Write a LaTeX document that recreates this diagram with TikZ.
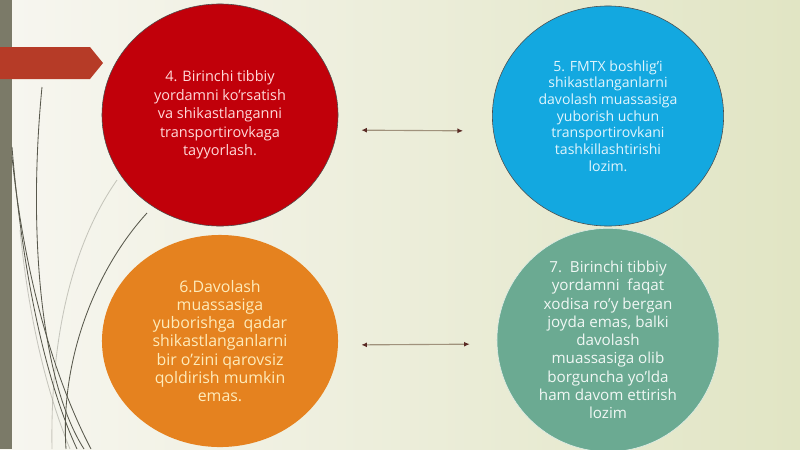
\documentclass[tikz,border=0pt]{standalone}
\usepackage{fontspec}
\setmainfont{Open Sans}
\usetikzlibrary{shapes.geometric,arrows.meta}
\definecolor{bgleft}{HTML}{F7F6F0}
\definecolor{bgright}{HTML}{E1E5C4}
\definecolor{barc}{HTML}{7B7A68}
\definecolor{flagc}{HTML}{B63B27}
\definecolor{curvec}{HTML}{58584C}
\definecolor{redc}{HTML}{C1000A}
\definecolor{bluec}{HTML}{13A8E0}
\definecolor{orangec}{HTML}{E5821F}
\definecolor{tealc}{HTML}{6BAA92}
\definecolor{linkc}{HTML}{A0927C}
\definecolor{tipc}{HTML}{5A2A24}
\begin{document}
\begin{tikzpicture}[x=0.025cm,y=-0.025cm,
    blob/.style={ellipse,inner sep=0pt,align=center},
    curve/.style={draw=curvec,line width=0.6pt},
    link/.style={{Latex[length=4pt,width=3.5pt,color=tipc]}-{Latex[length=4pt,width=3.5pt,color=tipc]},draw=linkc,line width=0.8pt}]
    \useasboundingbox (0,0) rectangle (800,449);
    \shade[left color=bgleft,right color=bgright] (0,0) rectangle (800,449);
    % left decoration
    \fill[barc] (0,0) rectangle (12,449);
    \draw[curve] (42,87) .. controls (28,230) and (40,380) .. (84,449);
    \draw[curve] (12,157) .. controls (25,280) and (55,380) .. (91,449);
    \draw[curve] (12,147) .. controls (22,270) and (45,380) .. (77,449);
    \draw[curve] (147,213) .. controls (95,270) and (60,360) .. (66,449);
    \draw[curve,opacity=.3] (117,180) .. controls (75,240) and (50,330) .. (52,449);
    \draw[curve,opacity=.3] (20,230) .. controls (30,330) and (50,400) .. (70,449);
    \fill[flagc] (0,47) -- (90,47) -- (103,63) -- (90,79) -- (0,79) -- cycle;
    % circles
    \node[blob,fill=redc,draw=black!70,thin,minimum width=5.9cm,minimum height=5.55cm,text=red!15!white,
        font=\fontsize{10.3}{13.2}\selectfont] (red) at (220,115)
        {4. Birinchi tibbiy\\yordamni ko’rsatish\\va shikastlanganni\\transportirovkaga\\tayyorlash.};
    \node[blob,fill=bluec,draw=black!70,thin,minimum width=5.78cm,minimum height=5.5cm,text=cyan!12!white,
        font=\fontsize{10}{11.9}\selectfont] (blue) at (608,116)
        {5. FMTX boshlig'i\\shikastlanganlarni\\davolash muassasiga\\yuborish uchun\\transportirovkani\\tashkillashtirishi\\lozim.};
    \node[blob,fill=orangec,minimum width=5.9cm,minimum height=5.3cm,text=yellow!45!orange!25!white,
        font=\fontsize{11.3}{13}\selectfont] (orange) at (220,341)
        {6.Davolash\\muassasiga\\yuborishga\ \ qadar\\shikastlanganlarni\\bir o'zini qarovsiz\\qoldirish mumkin\\emas.};
    \node[blob,fill=tealc,draw=white!80!tealc,minimum width=5.55cm,minimum height=5.3cm,text=white!90!tealc,
        font=\fontsize{10.8}{13}\selectfont] (teal) at (608,340)
        {7.\ \ Birinchi tibbiy\\yordamni\ \ faqat\\xodisa ro'y bergan\\joyda emas, balki\\davolash\\muassasiga olib\\borguncha yo'lda\\ham davom ettirish\\lozim};
    % links
    \draw[link,shorten <=0.575cm,shorten >=0.725cm] ([yshift=-0.375cm]red.east) -- ([yshift=-0.375cm]blue.west);
    \draw[link,shorten <=0.575cm,shorten >=0.675cm] ([yshift=-0.1cm]orange.east) -- ([yshift=-0.1cm]teal.west);
\end{tikzpicture}
\end{document}
